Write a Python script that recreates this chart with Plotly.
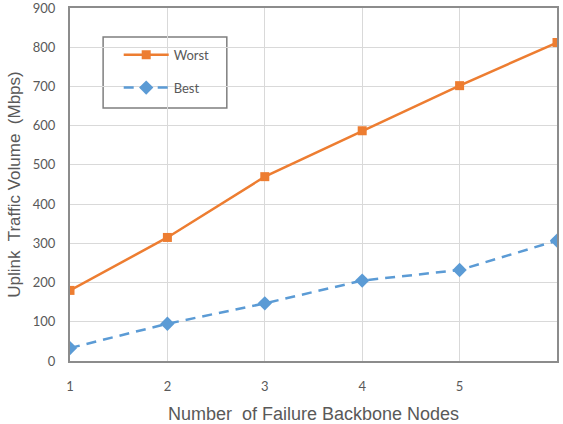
import plotly.graph_objects as go

nodes = [1, 2, 3, 4, 5, 6]
worst = [180, 315, 470, 587, 702, 812]
best = [33, 95, 147, 205, 232, 307]
x_ticks = [1, 2, 3, 4, 5]
y_ticks = [0, 100, 200, 300, 400, 500, 600, 700, 800, 900]

fig = go.Figure()
fig.add_trace(go.Scatter(
    x=nodes, y=worst, name="Worst", mode="lines+markers", legendgroup="w",
    line=dict(color="#ED7D31", width=2.5),
    marker=dict(symbol="square", size=9, color="#ED7D31"),
))
fig.add_trace(go.Scatter(
    x=nodes, y=best, name="Best", mode="lines+markers", legendgroup="b",
    line=dict(color="#5B9BD5", width=2.5, dash="10px,7px"),
    marker=dict(symbol="diamond", size=11, color="#5B9BD5"),
))

# legend frame
fig.add_shape(type="rect", xref="paper", yref="paper",
              x0=0.068, x1=0.322, y0=0.717, y1=0.918,
              line=dict(color="#7f7f7f", width=1.5), fillcolor="white", layer="below")

fig.update_layout(
    width=563, height=424,
    margin=dict(l=70, r=6, t=8, b=63, autoexpand=False),
    paper_bgcolor="white", plot_bgcolor="white",
    font=dict(family="Liberation Sans, Arial", color="#595959"),
    legend=dict(
        x=0.1, y=0.91, xanchor="left", yanchor="top",
        borderwidth=0, bgcolor="rgba(0,0,0,0)",
        font=dict(family="Lato, Carlito, sans-serif", size=13, color="#595959"),
        tracegroupgap=13, itemwidth=45,
    ),
    xaxis=dict(
        range=[1, 6], tickvals=x_ticks, ticktext=[str(v) for v in x_ticks],
        showgrid=True, gridcolor="#d9d9d9", gridwidth=1,
        showline=True, linecolor="#8c8c8c", linewidth=2, mirror=True,
        ticks="", ticklabelstandoff=12, automargin=True, ticklabeloverflow="allow",
        tickfont=dict(family="Lato, Carlito, sans-serif", size=13, color="#595959"),
        title=dict(text="Number  of Failure Backbone Nodes", font=dict(size=18, color="#595959"), standoff=18),
        zeroline=False,
    ),
    yaxis=dict(
        range=[0, 900], tickvals=y_ticks,
        showgrid=True, gridcolor="#d9d9d9", gridwidth=1,
        showline=True, linecolor="#8c8c8c", linewidth=2, mirror=True,
        ticks="", ticklabelstandoff=10, automargin=False, ticklabeloverflow="allow",
        tickfont=dict(family="Lato, Carlito, sans-serif", size=13, color="#595959"),
        title=dict(text="Uplink  Traffic Volume  (Mbps)", font=dict(size=17, color="#595959"), standoff=8),
        zeroline=False,
    ),
)

fig.write_html("out.html")
